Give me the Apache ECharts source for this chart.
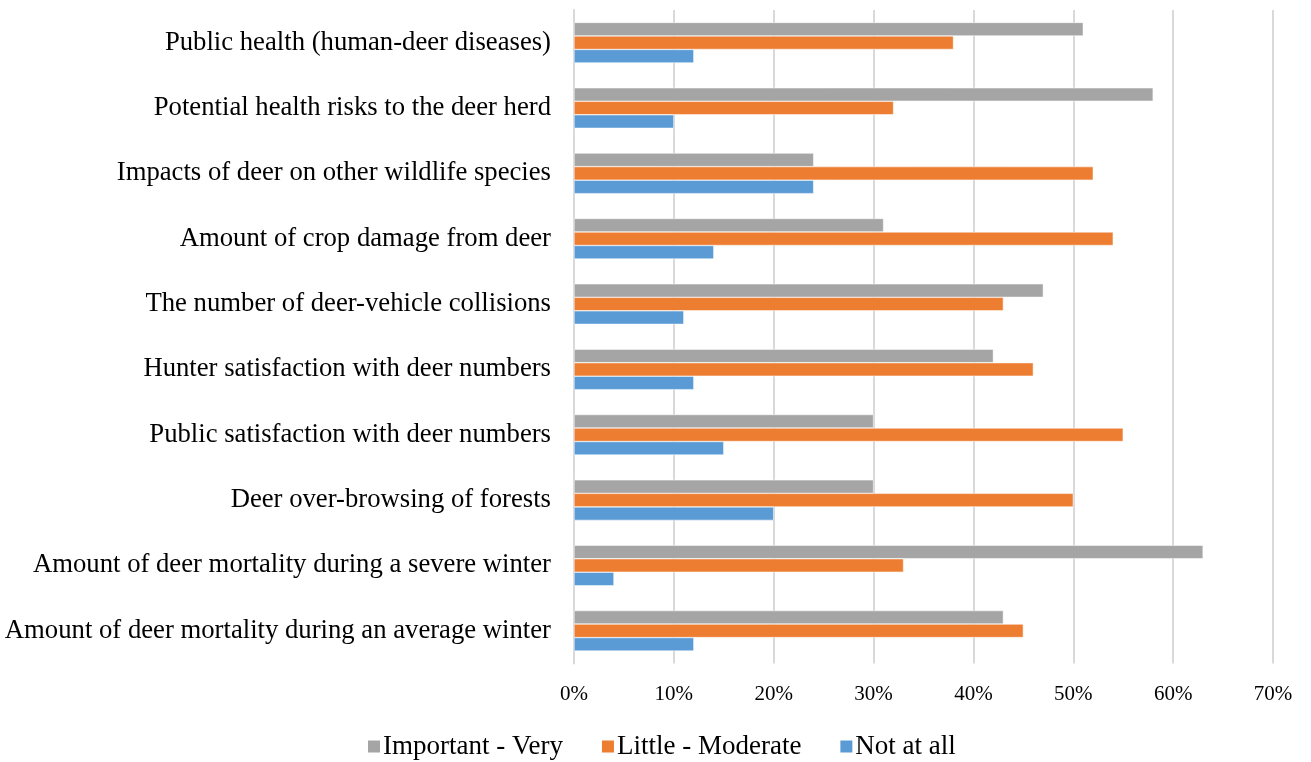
<!DOCTYPE html>
<html>
<head>
<meta charset="utf-8">
<script src="https://cdn.jsdelivr.net/npm/echarts@6/dist/echarts.min.js"></script>
<style>html,body{margin:0;padding:0;background:#fff}#c{width:1311px;height:762px}</style>
</head>
<body>
<div id="c"></div>
<script>
// categories bottom to top
const categories = [
  "Amount of deer mortality during an average winter",
  "Amount of deer mortality during a severe winter",
  "Deer over-browsing of forests",
  "Public satisfaction with deer numbers",
  "Hunter satisfaction with deer numbers",
  "The number of deer-vehicle collisions",
  "Amount of crop damage from deer",
  "Impacts of deer on other wildlife species",
  "Potential health risks to the deer herd",
  "Public health (human-deer diseases)"
];
const importantVery = [43, 63, 30, 30, 42, 47, 31, 24, 58, 51];
const littleModerate = [45, 33, 50, 55, 46, 43, 54, 52, 32, 38];
const notAtAll = [12, 4, 20, 15, 12, 11, 14, 24, 10, 12];
const xTicks = [0, 10, 20, 30, 40, 50, 60, 70];

const chart = echarts.init(document.getElementById('c'), null, {renderer: 'canvas'});
const font = '"Liberation Serif", "Times New Roman", serif';
const barStyle = (c) => ({color: c, borderColor: '#ffffff', borderWidth: 0.5});
chart.setOption({
  animation: false,
  textStyle: {fontFamily: font},
  grid: {left: 574, right: 38, top: 10, bottom: 98.5},
  legend: {
    top: 728, left: 361, itemWidth: 14, itemHeight: 14, itemGap: 37,
    icon: 'rect',
    textStyle: {fontFamily: font, fontSize: 27, color: '#000', padding: [0, 0, 0, -3]},
    data: ['Important - Very', 'Little - Moderate', 'Not at all']
  },
  xAxis: {
    type: 'value', min: xTicks[0], max: xTicks[xTicks.length - 1], interval: 10,
    axisLine: {show: false}, axisTick: {show: false},
    axisLabel: {formatter: '{value}%', fontFamily: font, fontSize: 21, color: '#000', margin: 20},
    splitLine: {show: true, lineStyle: {color: '#d9d9d9', width: 2}}
  },
  yAxis: {
    type: 'category', data: categories,
    axisLine: {show: true, lineStyle: {color: '#d9d9d9', width: 2}},
    axisTick: {show: false},
    axisLabel: {fontFamily: font, fontSize: 26.7, color: '#000', margin: 23}
  },
  series: [
    {name: 'Important - Very', type: 'bar', data: importantVery, itemStyle: barStyle('#A5A5A5'), barGap: '0%', barCategoryGap: '38%'},
    {name: 'Little - Moderate', type: 'bar', data: littleModerate, itemStyle: barStyle('#ED7D31'), barGap: '0%', barCategoryGap: '38%'},
    {name: 'Not at all', type: 'bar', data: notAtAll, itemStyle: barStyle('#5B9BD5'), barGap: '0%', barCategoryGap: '38%'}
  ]
});
</script>
</body>
</html>
